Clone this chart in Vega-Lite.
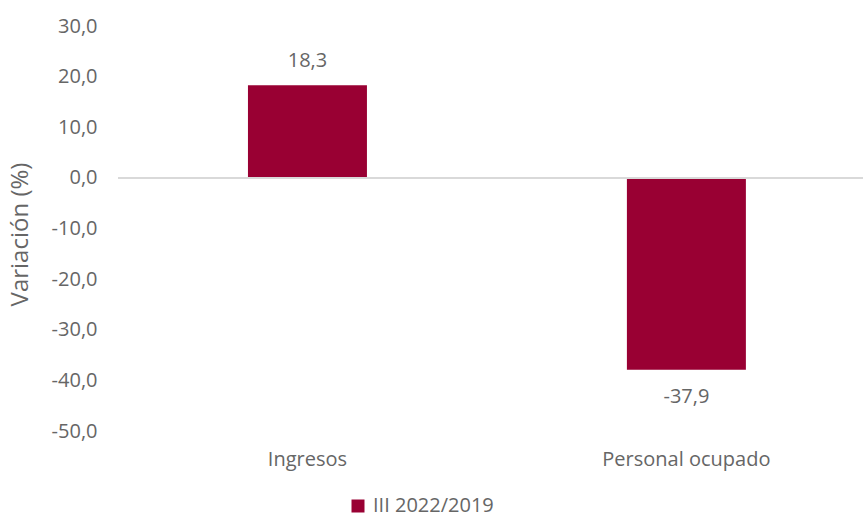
{
  "$schema": "https://vega.github.io/schema/vega-lite/v6.json",
  "width": 745,
  "height": 405,
  "autosize": {"type": "none"},
  "padding": {"left": 118, "top": 26, "right": 0, "bottom": 87},
  "config": {
    "locale": {"number": {"decimal": ",", "thousands": ".", "grouping": [3], "currency": ["", " €"], "minus": "-"}},
    "view": {"stroke": null},
    "font": "Open Sans"
  },
  "data": {"values": [
    {"categoria": "Ingresos", "serie": "III 2022/2019", "variacion": 18.3},
    {"categoria": "Personal ocupado", "serie": "III 2022/2019", "variacion": -37.9}
  ]},
  "layer": [
    {
      "mark": {"type": "bar"},
      "encoding": {
        "x": {
          "field": "categoria", "type": "nominal", "sort": null,
          "scale": {"paddingInner": 0.686, "paddingOuter": 0.326, "align": 0.526},
          "axis": {"title": null, "labelAngle": 0, "domain": false, "ticks": false, "labelFontSize": 20, "labelColor": "#666666", "labelPadding": 18}
        },
        "y": {
          "field": "variacion", "type": "quantitative",
          "scale": {"domain": [-50, 30], "nice": false, "zero": false},
          "axis": {
            "title": "Variación (%)", "format": ".1f",
            "values": [-50, -40, -30, -20, -10, 0, 10, 20, 30],
            "grid": false, "domain": false, "ticks": false,
            "labelFontSize": 20, "labelColor": "#666666", "labelPadding": 21,
            "titleFontSize": 24, "titleColor": "#666666", "titleFontWeight": "normal",
            "titleX": -98, "titleY": 208, "titleAngle": -90, "titleBaseline": "middle", "titleAlign": "center"
          }
        },
        "color": {
          "field": "serie", "type": "nominal",
          "scale": {"range": ["#990033"]},
          "legend": {"orient": "none", "legendX": 230, "legendY": 470, "title": null, "symbolType": "square", "symbolSize": 169, "labelFontSize": 20, "labelColor": "#666666", "labelOffset": 5, "symbolStrokeWidth": 0}
        }
      }
    },
    {
      "data": {"values": [{}]},
      "mark": {"type": "rule", "color": "#d9d9d9", "strokeWidth": 2},
      "encoding": {"y": {"datum": 0, "type": "quantitative"}}
    },
    {
      "transform": [{"filter": "datum.variacion > 0"}],
      "mark": {"type": "text", "baseline": "middle", "dy": -24, "fontSize": 20, "color": "#666666"},
      "encoding": {
        "x": {"field": "categoria", "type": "nominal", "sort": null},
        "y": {"field": "variacion", "type": "quantitative"},
        "text": {"field": "variacion", "type": "quantitative", "format": ".1f"}
      }
    },
    {
      "transform": [{"filter": "datum.variacion < 0"}],
      "mark": {"type": "text", "baseline": "middle", "dy": 27, "fontSize": 20, "color": "#666666"},
      "encoding": {
        "x": {"field": "categoria", "type": "nominal", "sort": null},
        "y": {"field": "variacion", "type": "quantitative"},
        "text": {"field": "variacion", "type": "quantitative", "format": ".1f"}
      }
    }
  ]
}
